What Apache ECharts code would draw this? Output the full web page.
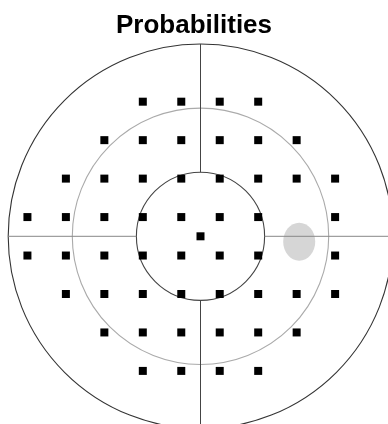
<!DOCTYPE html>
<html>
<head>
<meta charset="utf-8">
<script src="https://cdn.jsdelivr.net/npm/echarts@6/dist/echarts.min.js"></script>
<style>
html,body{margin:0;padding:0;background:#fff;}
#chart{width:388px;height:424px;}
</style>
</head>
<body>
<div id="chart"></div>
<script>
// ---- data (degrees of visual field) ----
const titleText = 'Probabilities';
const rowY = [21, 15, 9, 3, -3, -9, -15, -21];
const rowX = [
  [-9, -3, 3, 9],
  [-15, -9, -3, 3, 9, 15],
  [-21, -15, -9, -3, 3, 9, 15, 21],
  [-27, -21, -15, -9, -3, 3, 9, 21],
  [-27, -21, -15, -9, -3, 3, 9, 21],
  [-21, -15, -9, -3, 3, 9, 15, 21],
  [-15, -9, -3, 3, 9, 15],
  [-9, -3, 3, 9]
];
const fovea = [0, 0];
const ringRadii = [10, 20, 30];
const crossSegments = [
  [0, 10, 0, 30],
  [0, -10, 0, -30],
  [-30, 0, -10, 0],
  [10, 0, 30, 0]
];
const blindSpot = [15.4, -0.85, 2.5, 2.95]; // cx, cy, rx, ry

// ---- build ----
const points = [];
rowY.forEach((y, i) => rowX[i].forEach(x => points.push([x, y])));

const pxPerDeg = 6.41, cx = 200.5, cy = 236.3, W = 388, H = 424;
const ringColors = ['#444', '#aaa', '#333'];
const crossColors = ['#444', '#444', '#888', '#888'];

const chart = echarts.init(document.getElementById('chart'), null, {renderer: 'canvas'});
chart.setOption({
  animation: false,
  backgroundColor: '#fff',
  title: {
    text: titleText,
    left: 'center',
    top: 13,
    padding: 0,
    textStyle: {fontFamily: 'Liberation Sans, Arial, sans-serif', fontWeight: 'bold', fontSize: 26, color: '#000'}
  },
  grid: {left: 0, right: 0, top: 0, bottom: 0},
  xAxis: {type: 'value', min: -cx / pxPerDeg, max: (W - cx) / pxPerDeg, show: false, splitLine: {show: false}},
  yAxis: {type: 'value', min: -(H - cy) / pxPerDeg, max: cy / pxPerDeg, show: false, splitLine: {show: false}},
  series: [
    {
      type: 'custom', z: 1, silent: true,
      data: [blindSpot],
      renderItem: (params, api) => {
        const c = api.coord([api.value(0), api.value(1)]);
        const s = api.size([api.value(2), api.value(3)]);
        return {type: 'ellipse', shape: {cx: c[0], cy: c[1], rx: s[0], ry: s[1]}, style: {fill: '#d6d6d6', stroke: null}};
      }
    },
    {
      type: 'custom', z: 2, silent: true,
      data: ringRadii.map(r => [r, 0]),
      renderItem: (params, api) => {
        const c = api.coord([0, 0]);
        const r = api.size([api.value(0), 0])[0];
        return {type: 'circle', shape: {cx: c[0], cy: c[1], r: r}, style: {fill: 'none', stroke: ringColors[params.dataIndex], lineWidth: 1.1}};
      }
    },
    {
      type: 'custom', z: 3, silent: true,
      data: crossSegments,
      renderItem: (params, api) => {
        const a = api.coord([api.value(0), api.value(1)]);
        const b = api.coord([api.value(2), api.value(3)]);
        return {type: 'line', shape: {x1: a[0], y1: a[1], x2: b[0], y2: b[1]}, style: {stroke: crossColors[params.dataIndex], lineWidth: 1}};
      }
    },
    {
      type: 'scatter', z: 5, silent: true,
      data: points.concat([fovea]),
      symbol: 'rect', symbolSize: 8,
      itemStyle: {color: '#000', opacity: 1}
    }
  ]
});
</script>
</body>
</html>
